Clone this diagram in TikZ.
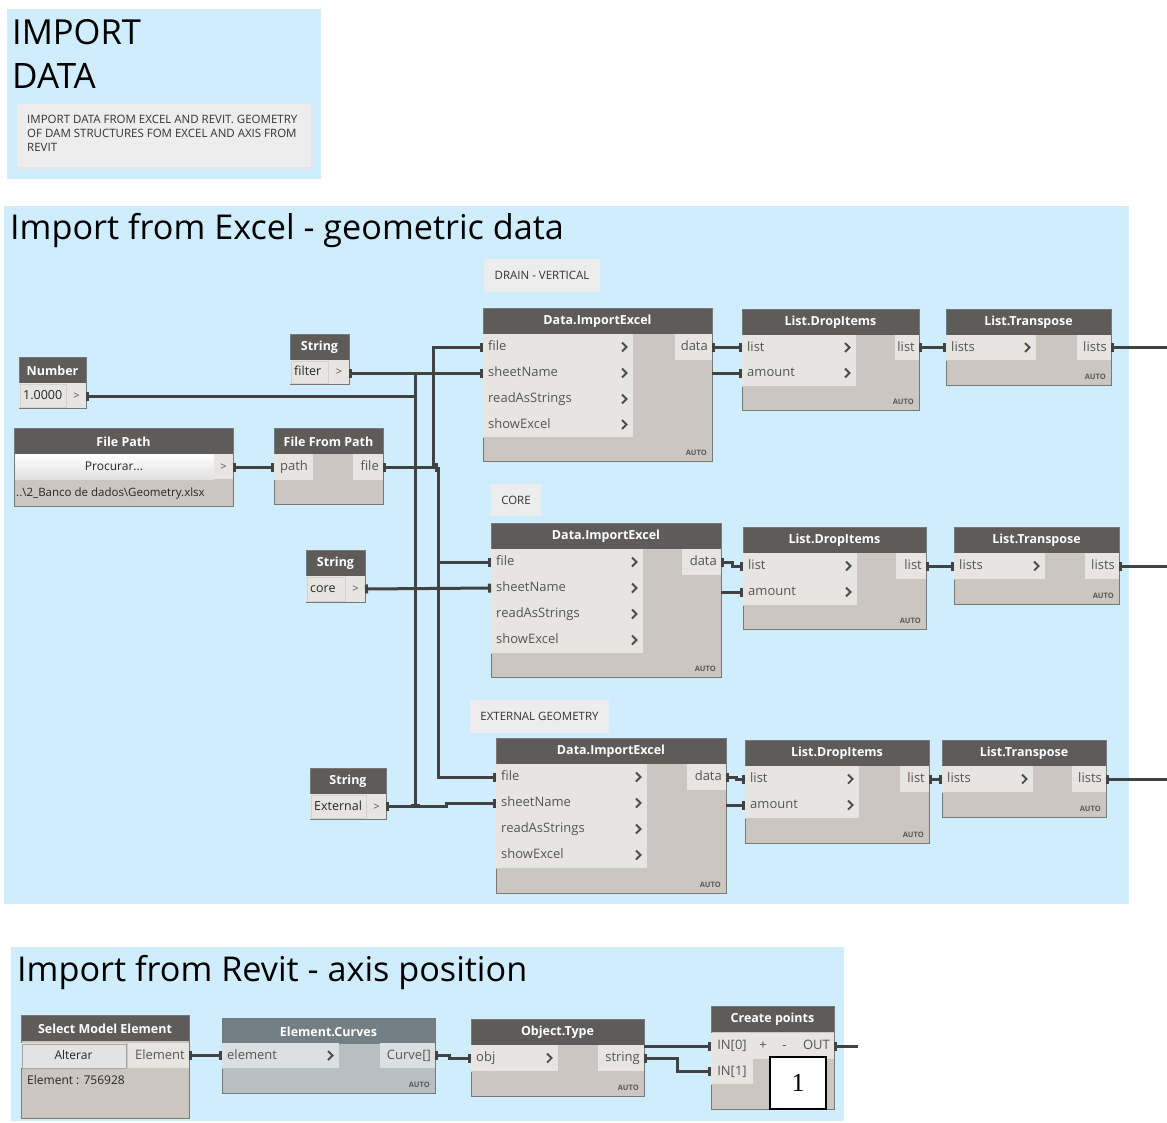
\documentclass[tikz,border=0pt]{standalone}
\usepackage{fontspec}
\setmainfont{Open Sans}
\newfontfamily\serifone{Liberation Serif}
\usetikzlibrary{arrows.meta}
\definecolor{groupc}{RGB}{207,237,253}
\definecolor{headc}{RGB}{94,92,90}
\definecolor{bodyc}{RGB}{203,199,192}
\definecolor{portc}{RGB}{230,229,226}
\definecolor{borderc}{RGB}{120,120,118}
\definecolor{txtc}{RGB}{85,85,85}
\definecolor{wirec}{RGB}{66,66,66}
\definecolor{notec}{RGB}{237,237,237}
\definecolor{ecHead}{RGB}{115,126,133}
\definecolor{ecBody}{RGB}{183,191,195}
\definecolor{ecPort}{RGB}{220,223,224}
\tikzset{
  headtxt/.style={text=white, font=\bfseries\fontsize{12.5}{14}\selectfont, inner sep=0},
  porttxt/.style={text=txtc, font=\fontsize{13}{15}\selectfont, inner sep=0, text height=9.5pt, text depth=2.5pt},
  valtxt/.style={text=black!85, font=\fontsize{12.5}{15}\selectfont, inner sep=0, text height=9.5pt, text depth=2.5pt},
  autotxt/.style={text=black!65, font=\bfseries\fontsize{7.5}{8}\selectfont, inner sep=0, anchor=south east},
  chev/.style={draw=black!70, line width=1.8pt},
  notetxt/.style={text=black!80, font=\fontsize{11.5}{14}\selectfont, inner sep=0},
  wire/.style={draw=wirec, line width=3pt},
  tabs/.style={{Rectangle[length=3pt,width=9pt]}-{Rectangle[length=3pt,width=9pt]}},
  tabe/.style={-{Rectangle[length=3pt,width=9pt]}},
  tabb/.style={{Rectangle[length=3pt,width=9pt]}-},
  titletxt/.style={anchor=base west, inner sep=0, text=black, font=\fontsize{34.2}{38}\selectfont}
}
% node frame: name, x1, y1, x2, y2, title
\newcommand\dynbox[6]{%
  \fill[bc] (#2,#3) rectangle (#4,#5);
  \fill[hc] (#2,#3) rectangle (#4,#3+26);
  \node[headtxt] (#1) at ({(#2+#4)/2},#3+13.5) {#6};
  \draw[borderc, line width=1pt] (#2,#3) rectangle (#4,#5);
}
% input port with chevron: name, x1, y1, x2, y2, text
\newcommand\inport[6]{%
  \fill[pc] (#2,#3) rectangle (#4,#5);
  \draw[bc, line width=0.8pt] (#2,#5) -- (#4,#5);
  \node[porttxt, anchor=west] at (#2+5,{(#3+#5)/2}) {#6};
  \draw[chev] (#4-11,{(#3+#5)/2-4.5}) -- (#4-6.5,{(#3+#5)/2}) -- (#4-11,{(#3+#5)/2+4.5});
  \coordinate (#1) at (#2,{(#3+#5)/2});
}
% output port: name, x1, y1, x2, y2, text
\newcommand\outport[6]{%
  \fill[pc] (#2,#3) rectangle (#4,#5);
  \node[porttxt, anchor=east] at (#4-4,{(#3+#5)/2}) {#6};
  \coordinate (#1) at (#4,{(#3+#5)/2});
}
% plain port (no chevron): x1, y1, x2, y2, text
\newcommand\plainport[5]{%
  \fill[pc] (#1,#2) rectangle (#3,#4);
  \draw[bc, line width=0.8pt] (#1,#4) -- (#3,#4);
  \node[porttxt] at ({(#1+#3)/2},{(#2+#4)/2}) {#5};
}
% value box: x1, y1, x2, y2, text
\newcommand\valbox[5]{%
  \fill[pc] (#1,#2) rectangle (#3,#4);
  \draw[black!18, line width=0.8pt] (#1+1,#2+1) rectangle (#3-1,#4-1);
  \node[valtxt, anchor=west] at (#1+4,{(#2+#4)/2}) {#5};
}
\newcommand\autolbl[2]{\node[autotxt] at (#1,#2) {AUTO};}
\begin{document}
\begin{tikzpicture}[x=1pt,y=-1pt]
\useasboundingbox (0,0) rectangle (1167,1122);
\fill[white] (0,0) rectangle (1167,1122);
\colorlet{hc}{headc}\colorlet{bc}{bodyc}\colorlet{pc}{portc}

% ---------- groups ----------
\fill[groupc] (7,9) rectangle (321,179);
\fill[groupc] (4,206) rectangle (1129,904);
\fill[groupc] (11,947) rectangle (844,1121);

\node[titletxt, font=\fontsize{34.5}{38}\selectfont] (g1a) at (12,44) {IMPORT};
\node[titletxt, font=\fontsize{35}{38}\selectfont] (g1b) at (12,88) {DATA};
\node[titletxt] (g2) at (10,239) {Import from Excel - geometric data};
\node[titletxt] (g3) at (17,981) {Import from Revit - axis position};

\fill[black!10] (19,106) rectangle (313,169);
\fill[notec] (17,104) rectangle (311,167);
\node[notetxt, anchor=north west, align=left] (n0) at (27,115)
  {IMPORT DATA FROM EXCEL AND REVIT. GEOMETRY\\OF DAM STRUCTURES FOM EXCEL AND AXIS FROM\\REVIT};

% notes
\fill[notec] (484,259) rectangle (600,292);
\node[notetxt] (n1) at (542,275.5) {DRAIN - VERTICAL};
\fill[notec] (491,484) rectangle (541,516);
\node[notetxt] (n2) at (516,500) {CORE};
\fill[notec] (470,700) rectangle (609,733);
\node[notetxt] (n3) at (539.5,716.5) {EXTERNAL GEOMETRY};

% ---------- inputs ----------
\dynbox{num}{19}{357}{86}{408}{Number}
\valbox{19}{383}{67}{408}{1.0000}
\fill[pc] (67,383) rectangle (86,408);
\node[porttxt, font=\fontsize{11}{13}\selectfont] at (76.5,395.5) {>};
\coordinate (num-out) at (86,396);

\dynbox{sf}{290}{334}{349}{384}{String}
\valbox{290}{360}{329}{384}{filter}
\fill[pc] (329,360) rectangle (349,384);
\node[porttxt, font=\fontsize{11}{13}\selectfont] at (339,372) {>};
\coordinate (sf-out) at (349,373);

\dynbox{fp}{14}{428}{233}{506}{File Path}
\shade[top color=white, bottom color=black!12] (15,454) rectangle (214,479);
\node[valtxt, font=\fontsize{12}{14}\selectfont] at (114,466.5) {Procurar...};
\fill[pc] (214,454) rectangle (233,479);
\node[porttxt, font=\fontsize{11}{13}\selectfont] at (223.5,466.5) {>};
\node[valtxt, anchor=west, font=\fontsize{11.5}{14}\selectfont] at (16,493) {..\textbackslash 2\_Banco de dados\textbackslash Geometry.xlsx};
\coordinate (fp-out) at (233,467);

\dynbox{ffp}{274}{428}{383}{504}{File From Path}
\fill[pc] (274,454) rectangle (313,480);
\node[porttxt, anchor=west] at (280,467) {path};
\outport{ffp-out}{353}{454}{383}{480}{file}
\coordinate (ffp-in) at (274,467);

\dynbox{sc}{306}{550}{365}{602}{String}
\valbox{306}{576}{346}{602}{core}
\fill[pc] (346,576) rectangle (365,602);
\node[porttxt, font=\fontsize{11}{13}\selectfont] at (355.5,589) {>};
\coordinate (sc-out) at (365,589);

\dynbox{se}{310}{768}{386}{819}{String}
\valbox{310}{794}{367}{819}{External}
\fill[pc] (367,794) rectangle (386,819);
\node[porttxt, font=\fontsize{11}{13}\selectfont] at (376.5,806.5) {>};
\coordinate (se-out) at (386,806.5);

% ---------- Data.ImportExcel ----------
\dynbox{ie1}{483}{308}{712}{461}{Data.ImportExcel}
\inport{ie1-file}{483}{334}{633}{360}{file}
\inport{ie1-sheet}{483}{360}{633}{386}{sheetName}
\inport{ie1-ras}{483}{386}{633}{412}{readAsStrings}
\inport{ie1-sx}{483}{412}{633}{437}{showExcel}
\outport{ie1-data}{675}{334}{712}{360}{data}
\autolbl{707}{456}
\coordinate (ie1-amt) at (712,373);

\dynbox{ie2}{491}{523}{721}{677}{Data.ImportExcel}
\inport{ie2-file}{491}{549}{643}{575}{file}
\inport{ie2-sheet}{491}{575}{643}{601}{sheetName}
\inport{ie2-ras}{491}{601}{643}{627}{readAsStrings}
\inport{ie2-sx}{491}{627}{643}{653}{showExcel}
\outport{ie2-data}{682}{549}{721}{575}{data}
\autolbl{716}{672}
\coordinate (ie2-amt) at (721,592);

\dynbox{ie3}{496}{738}{726}{893}{Data.ImportExcel}
\inport{ie3-file}{496}{764}{647}{790}{file}
\inport{ie3-sheet}{496}{790}{647}{816}{sheetName}
\inport{ie3-ras}{496}{816}{647}{842}{readAsStrings}
\inport{ie3-sx}{496}{842}{647}{868}{showExcel}
\outport{ie3-data}{687}{764}{726}{790}{data}
\autolbl{721}{888}
\coordinate (ie3-amt) at (726,805);

% ---------- List.DropItems ----------
\dynbox{di1}{742}{309}{919}{410}{List.DropItems}
\inport{di1-list}{742}{335}{856}{360}{list}
\inport{di1-amt}{742}{360}{856}{386}{amount}
\outport{di1-out}{895}{335}{919}{360}{list}
\autolbl{914}{405}

\dynbox{di2}{743}{527}{926}{629}{List.DropItems}
\inport{di2-list}{743}{553}{857}{579}{list}
\inport{di2-amt}{743}{579}{857}{605}{amount}
\outport{di2-out}{896}{553}{926}{579}{list}
\autolbl{921}{624}

\dynbox{di3}{745}{740}{929}{843}{List.DropItems}
\inport{di3-list}{745}{766}{859}{792}{list}
\inport{di3-amt}{745}{792}{859}{818}{amount}
\outport{di3-out}{900}{766}{929}{792}{list}
\autolbl{924}{838}

% ---------- List.Transpose ----------
\dynbox{tp1}{946}{309}{1111}{385}{List.Transpose}
\inport{tp1-in}{946}{335}{1036}{360}{lists}
\outport{tp1-out}{1077}{335}{1111}{360}{lists}
\autolbl{1106}{380}

\dynbox{tp2}{954}{527}{1119}{604}{List.Transpose}
\inport{tp2-in}{954}{553}{1045}{579}{lists}
\outport{tp2-out}{1085}{553}{1119}{579}{lists}
\autolbl{1114}{599}

\dynbox{tp3}{942}{740}{1106}{817}{List.Transpose}
\inport{tp3-in}{942}{766}{1033}{792}{lists}
\outport{tp3-out}{1072}{766}{1106}{792}{lists}
\autolbl{1101}{812}

\coordinate (r1) at (1167,347.5);
\coordinate (r2) at (1167,566);
\coordinate (r3) at (1167,779);

% ---------- wires group 2 ----------
\coordinate (nv-top) at (415,373);
\coordinate (nv-bot) at (415,806.5);
\coordinate (fj) at (438,467);
\draw[wire] (nv-top) -- (nv-bot);
\draw[wire, tabs] (num-out) -| (nv-bot);
\draw[wire, tabs] (sf-out) -- (ie1-sheet);
\draw[wire, tabs] (sc-out) -- (ie2-sheet);
\draw[wire, tabs] (se-out) -- ++(60,0) |- (ie3-sheet);
\draw[wire, tabs] (fp-out) -- (ffp-in);
\draw[wire, tabs] (ffp-out) -- (fj);
\draw[wire, tabe] (fj) ++(-5,0) |- (ie1-file);
\draw[wire, tabe] (fj) |- (ie2-file);
\draw[wire, tabe] (fj) |- (ie3-file);

\draw[wire, tabs] (ie1-data) -- ++(15,0) |- (di1-list);
\draw[wire, tabs] (ie2-data) -- ++(11,0) |- (di2-list);
\draw[wire, tabs] (ie3-data) -- ++(10,0) |- (di3-list);
\draw[wire, tabe] (ie1-amt) -- (di1-amt);
\draw[wire, tabe] (ie2-amt) -- (di2-amt);
\draw[wire, tabe] (ie3-amt) -- (di3-amt);
\draw[wire, tabs] (di1-out) -- (tp1-in);
\draw[wire, tabs] (di2-out) -- (tp2-in);
\draw[wire, tabs] (di3-out) -- (tp3-in);
\draw[wire, tabb] (tp1-out) -- (r1);
\draw[wire, tabb] (tp2-out) -- (r2);
\draw[wire, tabb] (tp3-out) -- (r3);

% ---------- group 3 ----------
\dynbox{sme}{21}{1015}{189}{1118}{Select Model Element}
\fill[black!11] (21,1043) rectangle (126,1068);
\draw[black!35, line width=0.8pt] (22,1044) rectangle (126,1068);
\node[valtxt, font=\fontsize{12}{14}\selectfont] at (73.5,1055.5) {Alterar};
\outport{sme-out}{128}{1043}{189}{1068}{Element}
\node[valtxt, anchor=west, font=\fontsize{12}{14}\selectfont] at (27,1081) {Element : 756928};

\colorlet{hc}{ecHead}\colorlet{bc}{ecBody}\colorlet{pc}{ecPort}
\dynbox{ec}{222}{1018}{435}{1093}{Element.Curves}
\inport{ec-in}{222}{1043}{339}{1068}{element}
\outport{ec-out}{380}{1043}{435}{1068}{Curve[]}
\autolbl{430}{1088}
\colorlet{hc}{headc}\colorlet{bc}{bodyc}\colorlet{pc}{portc}

\dynbox{ot}{471}{1019}{644}{1096}{Object.Type}
\inport{ot-in}{471}{1045}{558}{1071}{obj}
\outport{ot-out}{598}{1045}{644}{1071}{string}
\autolbl{639}{1091}
\coordinate (ot-e0) at (644,1046);

\dynbox{cp}{711}{1006}{834}{1109}{Create points}
\plainport{711}{1033}{753}{1059}{IN[0]}
\plainport{753}{1033}{773}{1059}{+}
\plainport{773}{1033}{796}{1059}{-}
\outport{cp-out}{796}{1033}{834}{1059}{OUT}
\plainport{711}{1059}{753}{1084}{IN[1]}
\coordinate (cp-in0) at (711,1046);
\coordinate (cp-in1) at (711,1071.5);
\coordinate (r4) at (858,1046);
\node[draw=black, line width=1.2pt, fill=white, minimum width=56pt, minimum height=52pt, inner sep=0,
  font=\serifone\fontsize{26}{28}\selectfont] (one) at (798,1083) {1};

\draw[wire, tabs] (sme-out) -- (ec-in);
\draw[wire, tabs] (ec-out) -- ++(14,0) |- (ot-in);
\draw[wire, tabs] (ot-out) -- ++(33,0) |- (cp-in1);
\draw[wire, tabe] (ot-e0) -- (cp-in0);
\draw[wire, tabb] (cp-out) -- (r4);
\end{tikzpicture}
\end{document}
